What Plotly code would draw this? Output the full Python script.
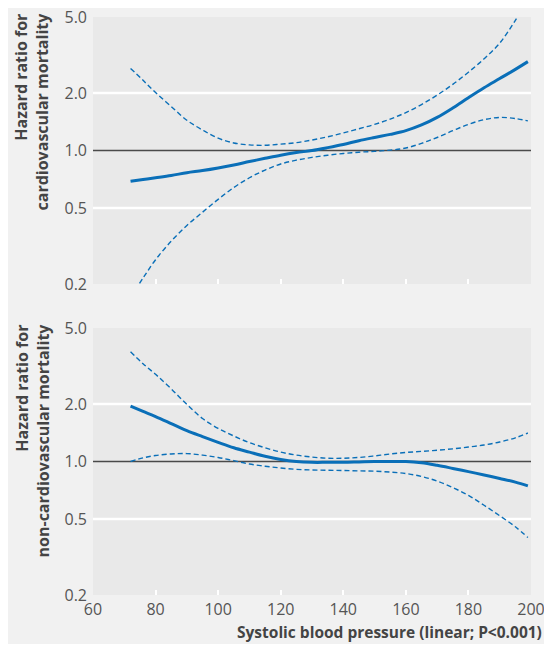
import math
import plotly.graph_objects as go
from plotly.subplots import make_subplots

# ---- data ----
sbp = [72, 76, 80, 85, 90, 95, 100, 105, 110, 115, 120, 125, 130, 135, 140,
       145, 150, 155, 160, 165, 170, 175, 180, 185, 190, 195, 199]

cv_hr = [0.69, 0.705, 0.72, 0.74, 0.765, 0.785, 0.81, 0.84, 0.875, 0.91, 0.945, 0.975, 1.0, 1.035, 1.075,
         1.125, 1.17, 1.215, 1.27, 1.36, 1.49, 1.67, 1.89, 2.13, 2.38, 2.66, 2.92]
cv_hi = [2.69, 2.33, 2.01, 1.70, 1.44, 1.28, 1.16, 1.095, 1.07, 1.065, 1.08, 1.10, 1.135, 1.18, 1.235,
         1.30, 1.37, 1.46, 1.58, 1.74, 1.95, 2.22, 2.57, 3.02, 3.65, 4.8, 6.1]
cv_lo = [0.171, 0.215, 0.268, 0.335, 0.405, 0.475, 0.555, 0.64, 0.72, 0.79, 0.85, 0.89, 0.92, 0.945, 0.965,
         0.98, 0.99, 1.005, 1.03, 1.09, 1.17, 1.27, 1.37, 1.45, 1.49, 1.47, 1.43]

ncv_hr = [1.95, 1.83, 1.72, 1.58, 1.45, 1.35, 1.26, 1.18, 1.12, 1.065, 1.025, 1.0, 0.99, 0.99, 0.99,
          0.995, 1.0, 1.0, 1.0, 0.985, 0.955, 0.92, 0.885, 0.85, 0.815, 0.78, 0.745]
ncv_hi = [3.76, 3.25, 2.86, 2.40, 1.99, 1.68, 1.49, 1.36, 1.255, 1.18, 1.12, 1.08, 1.055, 1.04, 1.04,
          1.05, 1.07, 1.095, 1.115, 1.13, 1.145, 1.165, 1.19, 1.22, 1.265, 1.33, 1.41]
ncv_lo = [1.0, 1.045, 1.075, 1.095, 1.10, 1.08, 1.05, 1.01, 0.97, 0.945, 0.925, 0.91, 0.903, 0.90, 0.897,
          0.893, 0.89, 0.88, 0.865, 0.835, 0.79, 0.73, 0.665, 0.59, 0.52, 0.455, 0.40]

y_ticks = [0.2, 0.5, 1.0, 2.0, 5.0]
y_ticktext = ["0.2", "0.5", "1.0", "2.0", "5.0"]
x_ticks = [60, 80, 100, 120, 140, 160, 180, 200]
x_inner_ticks = [80, 100, 120, 140, 160, 180]
grid_levels = [0.5, 2.0]
ref_level = 1.0
x_span = [60, 200]

titles = [["Hazard ratio for", "cardiovascular mortality"],
          ["Hazard ratio for", "non-cardiovascular mortality"]]
x_title = "Systolic blood pressure (linear; P<0.001)"

BLUE = "#0a6fb8"
FONT = "Open Sans"

# page offset (body margin) -> figure pixel coordinates
OFF = 8
W, H = 552 - 2 * OFF, 652 - 2 * OFF
PLOT_L, PLOT_R, PLOT_T, PLOT_B = 92.6, 531, 17, 595
ml = PLOT_L - OFF
mr = W - (PLOT_R - OFF)
mt = PLOT_T - OFF
mb = H - (PLOT_B - OFF)
pw, ph = W - ml - mr, H - mt - mb


def px_to_paper_x(px):
    return (px - OFF - ml) / pw


def px_to_paper_y(py):
    return (H - mb - (py - OFF)) / ph


gap = (328 - 284) / ph
fig = make_subplots(rows=2, cols=1, vertical_spacing=gap)

panels = [(cv_hr, cv_hi, cv_lo), (ncv_hr, ncv_hi, ncv_lo)]
for i, (hr, hi, lo) in enumerate(panels, start=1):
    for g in grid_levels:
        fig.add_trace(go.Scatter(x=x_span, y=[g, g], mode="lines",
                                 line=dict(color="white", width=2.5),
                                 hoverinfo="skip", showlegend=False), row=i, col=1)
    fig.add_trace(go.Scatter(x=x_span, y=[ref_level, ref_level], mode="lines",
                             line=dict(color="#4a4a4a", width=1.6),
                             hoverinfo="skip", showlegend=False), row=i, col=1)
    for band in (hi, lo):
        fig.add_trace(go.Scatter(x=sbp, y=band, mode="lines",
                                 line=dict(color=BLUE, width=1.4, dash="5px,3px", shape="spline"),
                                 showlegend=False), row=i, col=1)
    fig.add_trace(go.Scatter(x=sbp, y=hr, mode="lines",
                             line=dict(color=BLUE, width=3, shape="spline"),
                             showlegend=False), row=i, col=1)

for i in (1, 2):
    fig.update_yaxes(type="log", range=[math.log10(0.2), math.log10(5)],
                     tickvals=y_ticks, ticktext=y_ticktext, showgrid=False,
                     zeroline=False, showline=False, ticks="",
                     tickfont=dict(family=FONT, size=16, color="#555555"),
                     ticklabelstandoff=5, ticklabeloverflow="allow",
                     row=i, col=1)
    fig.update_xaxes(range=x_span, tickvals=x_ticks, ticks="", showgrid=False,
                     zeroline=False, showline=False,
                     showticklabels=(i == 2),
                     tickfont=dict(family=FONT, size=16, color="#555555"),
                     ticklabelstandoff=3, ticklabeloverflow="allow",
                     minor=dict(tickmode="array", tickvals=x_inner_ticks, ticks="inside",
                                ticklen=5, tickwidth=2, tickcolor="white", showgrid=False),
                     row=i, col=1)

title_tops = [10, 321]
for t, top in zip(titles, title_tops):
    fig.add_annotation(xref="paper", yref="paper",
                       x=px_to_paper_x(32), y=px_to_paper_y(top),
                       xanchor="center", yanchor="top",
                       text="<b>" + "<br>".join(t) + "</b>", textangle=-90,
                       align="right", showarrow=False,
                       font=dict(family=FONT, size=16, color="#444444"))

fig.add_annotation(xref="paper", yref="paper",
                   x=px_to_paper_x(544), y=px_to_paper_y(645),
                   xanchor="right", yanchor="bottom",
                   text="<b>" + x_title + "</b>", showarrow=False,
                   font=dict(family=FONT, size=15.5, color="#444444"))

fig.update_layout(width=W, height=H, margin=dict(l=ml, r=mr, t=mt, b=mb, autoexpand=False),
                  paper_bgcolor="#f1f1f1", plot_bgcolor="#e9e9e9",
                  font=dict(family=FONT), showlegend=False)

fig.write_html("out.html")
